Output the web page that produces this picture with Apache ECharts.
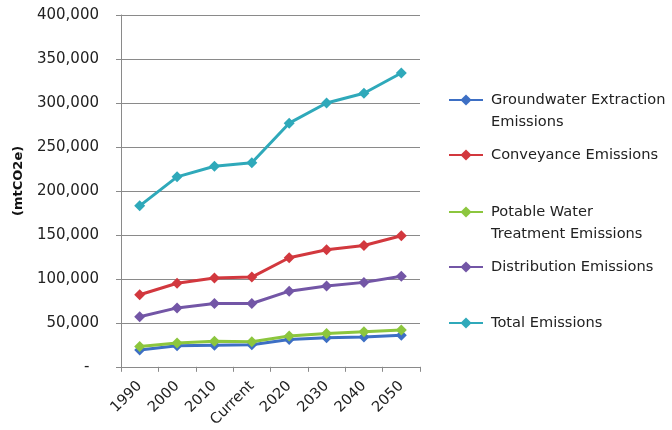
<!DOCTYPE html>
<html>
<head>
<meta charset="utf-8">
<script src="https://cdn.jsdelivr.net/npm/echarts@6/dist/echarts.min.js"></script>
<style>
  html, body { margin: 0; padding: 0; background: #fff; }
  #chart { width: 672px; height: 430px; }
</style>
</head>
<body>
<div id="chart"></div>
<script>
// Emission categories along the x axis
const categories = ['1990', '2000', '2010', 'Current', '2020', '2030', '2040', '2050'];

// Emissions by component (mtCO2e)
const groundwater = [19000, 24000, 24500, 25000, 31000, 33000, 34000, 36000];
const conveyance = [82000, 95000, 101000, 102000, 124000, 133000, 138000, 149000];
const potable = [23000, 27000, 29000, 28500, 35000, 38000, 40000, 42000];
const distribution = [57000, 67000, 72000, 72000, 86000, 92000, 96000, 103000];
const total = [183000, 216000, 228000, 232000, 277000, 300000, 311000, 334000];

// Series names and how they wrap in the legend
const seriesNames = [
  'Groundwater Extraction Emissions',
  'Conveyance Emissions',
  'Potable Water Treatment Emissions',
  'Distribution Emissions',
  'Total Emissions'
];
const legendLines = [
  ['Groundwater Extraction', 'Emissions'],
  ['Conveyance Emissions'],
  ['Potable Water', 'Treatment Emissions'],
  ['Distribution Emissions'],
  ['Total Emissions']
];
const seriesData = [groundwater, conveyance, potable, distribution, total];
const colors = ['#3d6fc4', '#d2383e', '#8cc63e', '#7356a6', '#2fa9ba'];

// Y axis range
const yMin = 0, yMax = 400000, yStep = 50000;

const font = '"DejaVu Sans", Verdana, sans-serif';
const lineH = 22;

const chart = echarts.init(document.getElementById('chart'), null, { renderer: 'canvas' });

const series = seriesNames.map((name, i) => ({
  name: name,
  type: 'line',
  data: seriesData[i],
  symbol: 'diamond',
  symbolSize: 11,
  lineStyle: { width: 3, color: colors[i] },
  itemStyle: { color: colors[i] },
  z: i === 2 ? 3 : 2,
  animation: false
}));

// One legend block per series; the marker lines up with the first text line.
// Two-line entries get a leading blank line so the marker stays centred on line one.
const legendCenters = [100, 155, 212, 267, 323];
const legends = seriesNames.map((name, i) => {
  const lines = legendLines[i];
  const multi = lines.length > 1;
  return {
    data: [name],
    left: 448,
    top: legendCenters[i] - (multi ? lineH * 1.5 : lineH / 2),
    padding: 0,
    itemWidth: 34,
    itemHeight: 14,
    itemGap: 0,
    selectedMode: false,
    formatter: () => multi ? '\n' + lines.join('\n') : lines[0],
    textStyle: {
      fontFamily: font,
      fontSize: 14.6,
      color: '#222',
      lineHeight: lineH,
      padding: [0, 0, 0, 3]
    }
  };
});

chart.setOption({
  animation: false,
  backgroundColor: '#fff',
  color: colors,
  legend: legends,
  grid: { left: 121, right: 252, top: 15, bottom: 63, containLabel: false },
  xAxis: {
    type: 'category',
    data: categories,
    boundaryGap: true,
    axisLine: { show: true, lineStyle: { color: '#8a8a8a', width: 1 } },
    axisTick: { show: true, length: 5, alignWithLabel: false, lineStyle: { color: '#8a8a8a' } },
    axisLabel: {
      rotate: 45,
      interval: 0,
      margin: 17,
      fontFamily: font,
      fontSize: 14.6,
      color: '#222'
    },
    splitLine: { show: false }
  },
  yAxis: {
    type: 'value',
    min: yMin,
    max: yMax,
    interval: yStep,
    name: '(mtCO2e)',
    nameLocation: 'middle',
    nameRotate: 90,
    nameGap: 96,
    nameTextStyle: {
      fontFamily: font,
      fontSize: 13,
      fontWeight: 'bold',
      color: '#111',
      padding: [0, 0, 0, 20]
    },
    axisLine: { show: true, lineStyle: { color: '#8a8a8a', width: 1 } },
    axisTick: { show: true, length: 5, lineStyle: { color: '#8a8a8a' } },
    axisLabel: {
      margin: 22,
      fontFamily: font,
      fontSize: 15,
      color: '#222',
      formatter: v => v === 0 ? '-  ' : v.toLocaleString('en-US')
    },
    splitLine: { show: true, lineStyle: { color: '#8a8a8a', width: 1 } }
  },
  series: series
});
</script>
</body>
</html>
